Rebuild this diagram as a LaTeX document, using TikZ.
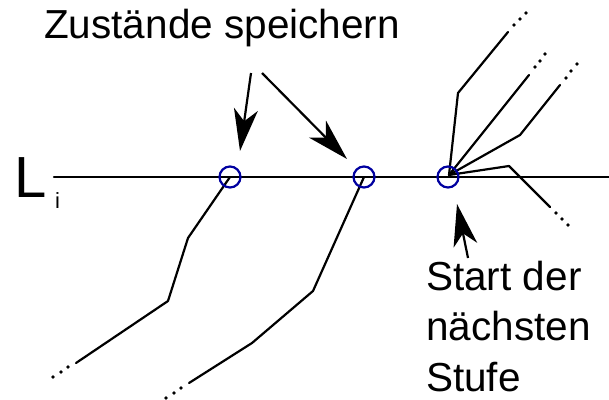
\documentclass[tikz,border=0pt]{standalone}
\usepackage{fontspec}
\setmainfont{Liberation Sans}
\usetikzlibrary{arrows.meta}
\definecolor{ringblue}{RGB}{0,0,160}
\begin{document}
\begin{tikzpicture}[x=1pt,y=-1pt,
  path/.style={line width=2.2pt,line join=round,line cap=round},
  ring/.style={circle,draw=ringblue,line width=2.2pt,minimum size=21pt,inner sep=0pt},
  bigarrow/.style={line width=2.2pt,-{Stealth[length=42pt,width=24pt,inset=12pt]}},
  lbl/.style={inner sep=0pt,anchor=base west,font=\fontsize{40.5}{48}\selectfont},
  dot/.style={fill=black,circle,inner sep=0pt,minimum size=3.8pt}]
\useasboundingbox (0,0) rectangle (609,399);
% main line
\coordinate (ls) at (54,177);
\coordinate (le) at (609,177);
\draw[path] (ls) -- (le);
% labels
\node[lbl,font=\fontsize{58}{60}\selectfont] (L) at (14,197) {L};
\node[lbl,font=\fontsize{22}{24}\selectfont] (i) at (55,208) {i};
\node[lbl] (top) at (44,38) {Zustände speichern};
\node[lbl] (s1) at (426,290) {Start der};
\node[lbl] (s2) at (426,340) {nächsten};
\node[lbl] (s3) at (426,391) {Stufe};
% branches from circle 1
\draw[path] (230,177) -- (188,238) -- (168,301) -- (76,363);
\node[dot] (d1a) at (68,367) {}; \node[dot] (d1b) at (61,372) {}; \node[dot] (d1c) at (53,377) {};
% branches from circle 2
\draw[path] (364,177) -- (313,291) -- (252,343) -- (189,383);
\node[dot] (d2a) at (181,388) {}; \node[dot] (d2b) at (174,393) {}; \node[dot] (d2c) at (166,398) {};
% branches from circle 3
\draw[path] (449,175) -- (458,93) -- (508,32);
\node[dot] (d3a) at (514,25) {}; \node[dot] (d3b) at (520,19) {}; \node[dot] (d3c) at (526,13) {};
\draw[path] (449,175) -- (529,75);
\node[dot] (d4a) at (535,67) {}; \node[dot] (d4b) at (540,61) {}; \node[dot] (d4c) at (545,54) {};
\draw[path] (449,175) -- (520,135) -- (560,85);
\node[dot] (d5a) at (566,78) {}; \node[dot] (d5b) at (571,71) {}; \node[dot] (d5c) at (577,64) {};
\draw[path] (449,175) -- (509,166) -- (550,207);
\node[dot] (d6a) at (556,213) {}; \node[dot] (d6b) at (562,219) {}; \node[dot] (d6c) at (568,225) {};
% circles
\node[ring] (c1) at (230,177) {};
\node[ring] (c2) at (364,177) {};
\node[ring] (c3) at (448,177) {};
% arrows
\coordinate (a1s) at (251,73);
\coordinate (a1e) at (240,151);
\coordinate (a2s) at (262,73);
\coordinate (a2e) at (347,159);
\coordinate (a3s) at (468,258);
\coordinate (a3e) at (457,204);
\draw[bigarrow] (a1s) -- (a1e);
\draw[bigarrow] (a2s) -- (a2e);
\draw[bigarrow] (a3s) -- (a3e);
\end{tikzpicture}
\end{document}
